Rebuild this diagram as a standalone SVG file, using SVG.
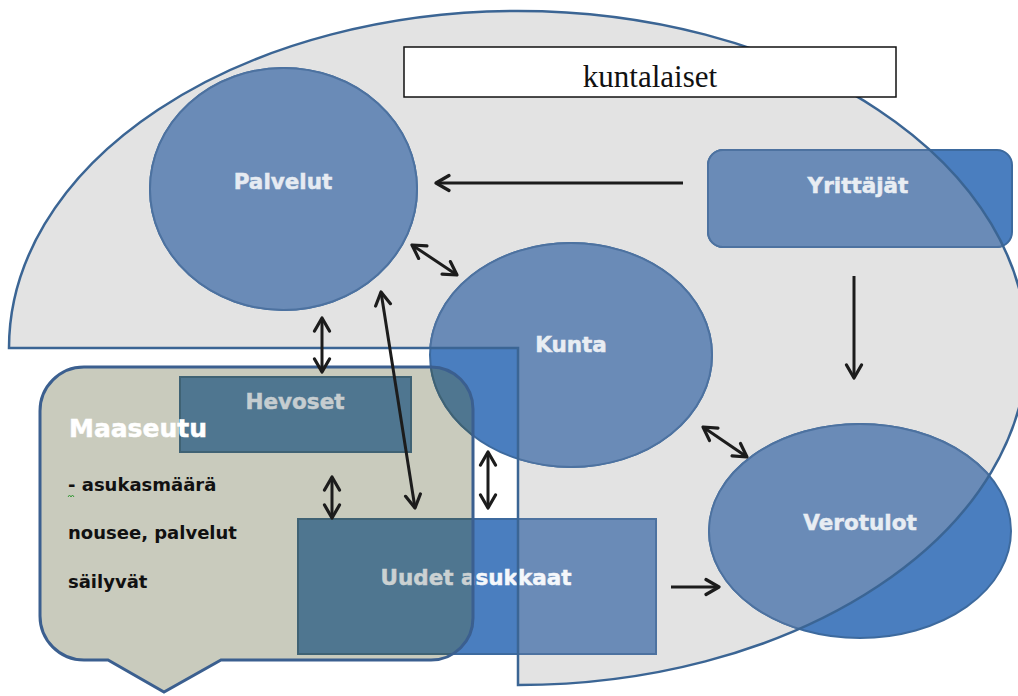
<svg xmlns="http://www.w3.org/2000/svg" xmlns:xlink="http://www.w3.org/1999/xlink" width="1018" height="696" viewBox="0 0 1018 696">
<style>
.base{fill:#4a7ebf;stroke:#3d6a9e;stroke-width:2}
.inpie{fill:#6a8bb7;stroke:#4d72a0;stroke-width:2}
.incall{fill:#4f7690;stroke:#3f6274;stroke-width:2}
.lbl{font-family:"DejaVu Sans",Verdana,sans-serif;font-weight:bold;font-size:21.5px;text-anchor:middle;stroke-width:0.5px}
.small{font-family:"DejaVu Sans",Verdana,sans-serif;font-weight:bold;font-size:18px;fill:#111}
.arr{fill:none;stroke:#1c1c1c;stroke-width:3}
</style>
<defs>
<path id="pie" d="M9,348 A509,337 0 1 1 518,685 L518,348 Z"/>
<path id="callout" d="M84,367 H431 A42,42 0 0 1 473,409 V618 A42,42 0 0 1 431,660 H221 L164,692 L108,660 H84 A44,44 0 0 1 40,616 V411 A44,44 0 0 1 84,367 Z"/>
<clipPath id="clipPie"><use href="#pie"/></clipPath>
<clipPath id="clipCall"><use href="#callout"/></clipPath>
<ellipse id="sPalvelut" cx="283.5" cy="189" rx="133.5" ry="121"/>
<ellipse id="sKunta" cx="571" cy="355" rx="141" ry="112"/>
<ellipse id="sVero" cx="860" cy="531" rx="151" ry="107"/>
<rect id="sYritt" x="708" y="150" width="304" height="97" rx="15"/>
<rect id="sHevo" x="180" y="377" width="231" height="75"/>
<rect id="sUudet" x="298" y="519" width="358" height="135"/>
<marker id="ah" markerUnits="userSpaceOnUse" markerWidth="18" markerHeight="20" viewBox="0 0 18 20" refX="15" refY="10" orient="auto-start-reverse"><path d="M2,2.5 L15,10 L2,17.5" fill="none" stroke="#1c1c1c" stroke-width="3.2" stroke-linecap="round" stroke-linejoin="round"/></marker>
</defs>

<g id="kuntalaiset-area-fill"><use href="#pie" fill="#e3e3e3"/></g>
<g id="maaseutu-fill"><use href="#callout" fill="#c9cbbd"/></g>

<g id="palvelut">
<use href="#sPalvelut" class="base"/>
<use href="#sPalvelut" class="inpie" clip-path="url(#clipPie)"/>
<text class="lbl" x="283" y="189" fill="#e6ebf2" stroke="#e6ebf2">Palvelut</text>
</g>
<g id="kunta">
<use href="#sKunta" class="base"/>
<use href="#sKunta" class="inpie" clip-path="url(#clipPie)"/>
<use href="#sKunta" class="incall" clip-path="url(#clipCall)"/>
<text class="lbl" x="571" y="352" fill="#e8edf3" stroke="#e8edf3">Kunta</text>
</g>
<g id="yrittajat">
<use href="#sYritt" class="base"/>
<use href="#sYritt" class="inpie" clip-path="url(#clipPie)"/>
<text class="lbl" x="858" y="193" fill="#e8edf3" stroke="#e8edf3">Yrittäjät</text>
</g>
<g id="verotulot">
<use href="#sVero" class="base"/>
<use href="#sVero" class="inpie" clip-path="url(#clipPie)"/>
<text class="lbl" x="860" y="530" fill="#e8edf3" stroke="#e8edf3">Verotulot</text>
</g>
<g id="hevoset">
<use href="#sHevo" class="base"/>
<use href="#sHevo" class="incall" clip-path="url(#clipCall)"/>
<text class="lbl" x="295" y="409" fill="#c6cdd0" stroke="#c6cdd0">Hevoset</text>
</g>
<g id="uudet-asukkaat">
<use href="#sUudet" class="base"/>
<use href="#sUudet" class="inpie" clip-path="url(#clipPie)"/>
<use href="#sUudet" class="incall" clip-path="url(#clipCall)"/>
<text class="lbl" x="476" y="585"><tspan fill="#cbd1d2" stroke="#cbd1d2">Uudet a</tspan><tspan fill="#f4f7fb" stroke="#f4f7fb">sukkaat</tspan></text>
</g>

<g id="kuntalaiset">
<use href="#pie" fill="none" stroke="#3b6594" stroke-width="2.5"/>
<rect x="404" y="47" width="492" height="50" fill="#fff" stroke="#111" stroke-width="1.5"/>
<text x="650" y="87" font-family="'Liberation Serif','Times New Roman',serif" font-size="31" text-anchor="middle" fill="#111">kuntalaiset</text>
</g>

<g id="maaseutu">
<use href="#callout" fill="none" stroke="#3b5f8f" stroke-width="3"/>
<text x="69" y="437" font-family="'DejaVu Sans',Verdana,sans-serif" font-weight="bold" font-size="25" fill="#fff" stroke="#fff" stroke-width="0.5">Maaseutu</text>
<text class="small" x="68" y="491">- asukasmäärä</text>
<path d="M68,497 l1.5,-2 l1.5,2 l1.5,-2 l1.5,2" fill="none" stroke="#3a9a3a" stroke-width="1"/>
<text class="small" x="68" y="539">nousee, palvelut</text>
<text class="small" x="68" y="588">säilyvät</text>
</g>

<g id="connectors">
<path class="arr" d="M683,183 L436,183" marker-end="url(#ah)"/>
<path class="arr" d="M412,245 L457,275" marker-start="url(#ah)" marker-end="url(#ah)"/>
<path class="arr" d="M322,318 L322,372" marker-start="url(#ah)" marker-end="url(#ah)"/>
<path class="arr" d="M381,292 L415,508" marker-start="url(#ah)" marker-end="url(#ah)"/>
<path class="arr" d="M332,477 L332,518" marker-start="url(#ah)" marker-end="url(#ah)"/>
<path class="arr" d="M488,452 L488,508" marker-start="url(#ah)" marker-end="url(#ah)"/>
<path class="arr" d="M854,276 L854,378" marker-end="url(#ah)"/>
<path class="arr" d="M703,427 L747,457" marker-start="url(#ah)" marker-end="url(#ah)"/>
<path class="arr" d="M671,587 L719,587" marker-end="url(#ah)"/>
</g>
</svg>
